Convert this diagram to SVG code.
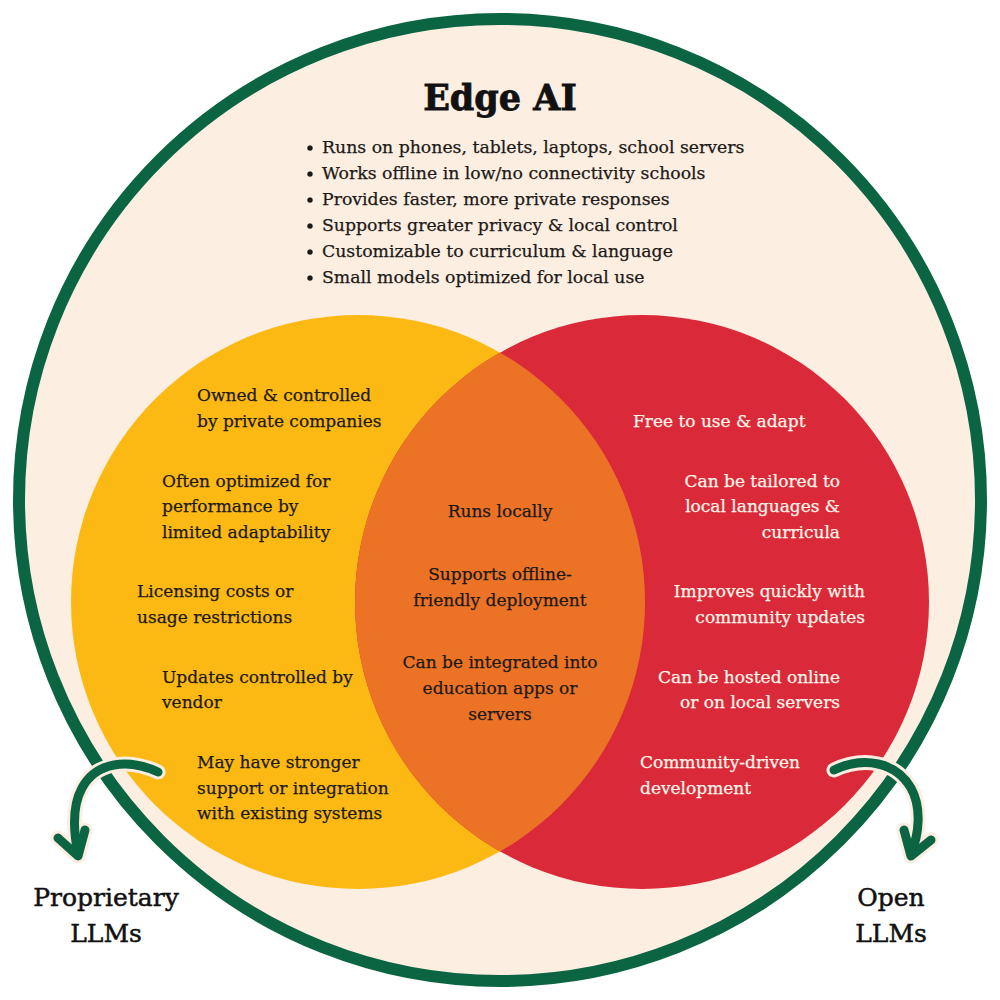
<svg xmlns="http://www.w3.org/2000/svg" width="1000" height="1000" viewBox="0 0 1000 1000">
<style>
.t{font-family:"DejaVu Serif","Liberation Serif",serif;font-size:17px;fill:#1c1a17;stroke:#1c1a17;stroke-width:0.25}
.b{font-size:17.3px}
.w{fill:#fff5ea;stroke:#fff5ea}
.c{text-anchor:middle}
.r{text-anchor:end}
.title{font-family:"DejaVu Serif","Liberation Serif",serif;font-size:35px;font-weight:bold;fill:#111;stroke:#111;stroke-width:0.8;text-anchor:middle}
.lbl{font-family:"DejaVu Serif","Liberation Serif",serif;font-size:25px;fill:#111;stroke:#111;stroke-width:0.5;text-anchor:middle}
.arrOut{fill:none;stroke:#fdeee2;stroke-width:15;stroke-linecap:round;stroke-linejoin:round}
.arr{fill:none;stroke:#0b6442;stroke-width:9;stroke-linecap:round;stroke-linejoin:round}
</style>
<rect width="1000" height="1000" fill="#ffffff"/>
<g id="edge-ai">
<circle cx="500" cy="500" r="481" fill="#fdeee2" stroke="#0b6442" stroke-width="12"/>
<text class="title" x="500" y="110">Edge AI</text>
<g class="t b">
<circle cx="310" cy="148" r="2.6" fill="#1c1a17"/>
<circle cx="310" cy="174" r="2.6" fill="#1c1a17"/>
<circle cx="310" cy="200" r="2.6" fill="#1c1a17"/>
<circle cx="310" cy="226" r="2.6" fill="#1c1a17"/>
<circle cx="310" cy="252" r="2.6" fill="#1c1a17"/>
<circle cx="310" cy="278" r="2.6" fill="#1c1a17"/>
<text x="322" y="153">Runs on phones, tablets, laptops, school servers</text>
<text x="322" y="179">Works offline in low/no connectivity schools</text>
<text x="322" y="205">Provides faster, more private responses</text>
<text x="322" y="231">Supports greater privacy &amp; local control</text>
<text x="322" y="257">Customizable to curriculum &amp; language</text>
<text x="322" y="283">Small models optimized for local use</text>
</g>
</g>
<g id="proprietary">
<circle cx="358" cy="602" r="287" fill="#fdb913"/>
</g>
<g id="open">
<circle cx="642" cy="602" r="287" fill="#da2a3a"/>
</g>
<g id="overlap">
<clipPath id="clipL"><circle cx="358" cy="602" r="287"/></clipPath>
<circle cx="642" cy="602" r="287" fill="#ec7226" clip-path="url(#clipL)"/>
</g>
<g id="proprietary-text" class="t">
<text x="197" y="401">Owned &amp; controlled</text>
<text x="197" y="427">by private companies</text>
<text x="162" y="487">Often optimized for</text>
<text x="162" y="512">performance by</text>
<text x="162" y="538">limited adaptability</text>
<text x="137" y="597">Licensing costs or</text>
<text x="137" y="623">usage restrictions</text>
<text x="162" y="683">Updates controlled by</text>
<text x="162" y="708">vendor</text>
<text x="197" y="768">May have stronger</text>
<text x="197" y="794">support or integration</text>
<text x="197" y="819">with existing systems</text>
</g>
<g id="overlap-text" class="t c">
<text x="500" y="517">Runs locally</text>
<text x="500" y="580">Supports offline-</text>
<text x="500" y="606">friendly deployment</text>
<text x="500" y="668">Can be integrated into</text>
<text x="500" y="694">education apps or</text>
<text x="500" y="720">servers</text>
</g>
<g id="open-text" class="t w">
<text x="633" y="427">Free to use &amp; adapt</text>
<text class="r" x="840" y="487">Can be tailored to</text>
<text class="r" x="840" y="512">local languages &amp;</text>
<text class="r" x="840" y="538">curricula</text>
<text class="r" x="865" y="597">Improves quickly with</text>
<text class="r" x="865" y="623">community updates</text>
<text class="r" x="840" y="683">Can be hosted online</text>
<text class="r" x="840" y="708">or on local servers</text>
<text x="640" y="768">Community-driven</text>
<text x="640" y="794">development</text>
</g>
<g id="connectors">
<path class="arrOut" d="M158,772 C128,758 96,762 82,788 C71,808 74,834 78,854"/>
<path class="arrOut" d="M58,838 L78,856 L85,830"/>
<path class="arr" d="M158,772 C128,758 96,762 82,788 C71,808 74,834 78,854"/>
<path class="arr" d="M58,838 L78,856 L85,830"/>
<path class="arrOut" d="M834,770 C864,756 896,762 911,788 C922,808 919,834 911,854"/>
<path class="arrOut" d="M904,830 L911,856 L931,840"/>
<path class="arr" d="M834,770 C864,756 896,762 911,788 C922,808 919,834 911,854"/>
<path class="arr" d="M904,830 L911,856 L931,840"/>
</g>
<g id="labels">
<text class="lbl" x="106" y="906">Proprietary</text>
<text class="lbl" x="106" y="942">LLMs</text>
<text class="lbl" x="891" y="906">Open</text>
<text class="lbl" x="891" y="942">LLMs</text>
</g>
</svg>
